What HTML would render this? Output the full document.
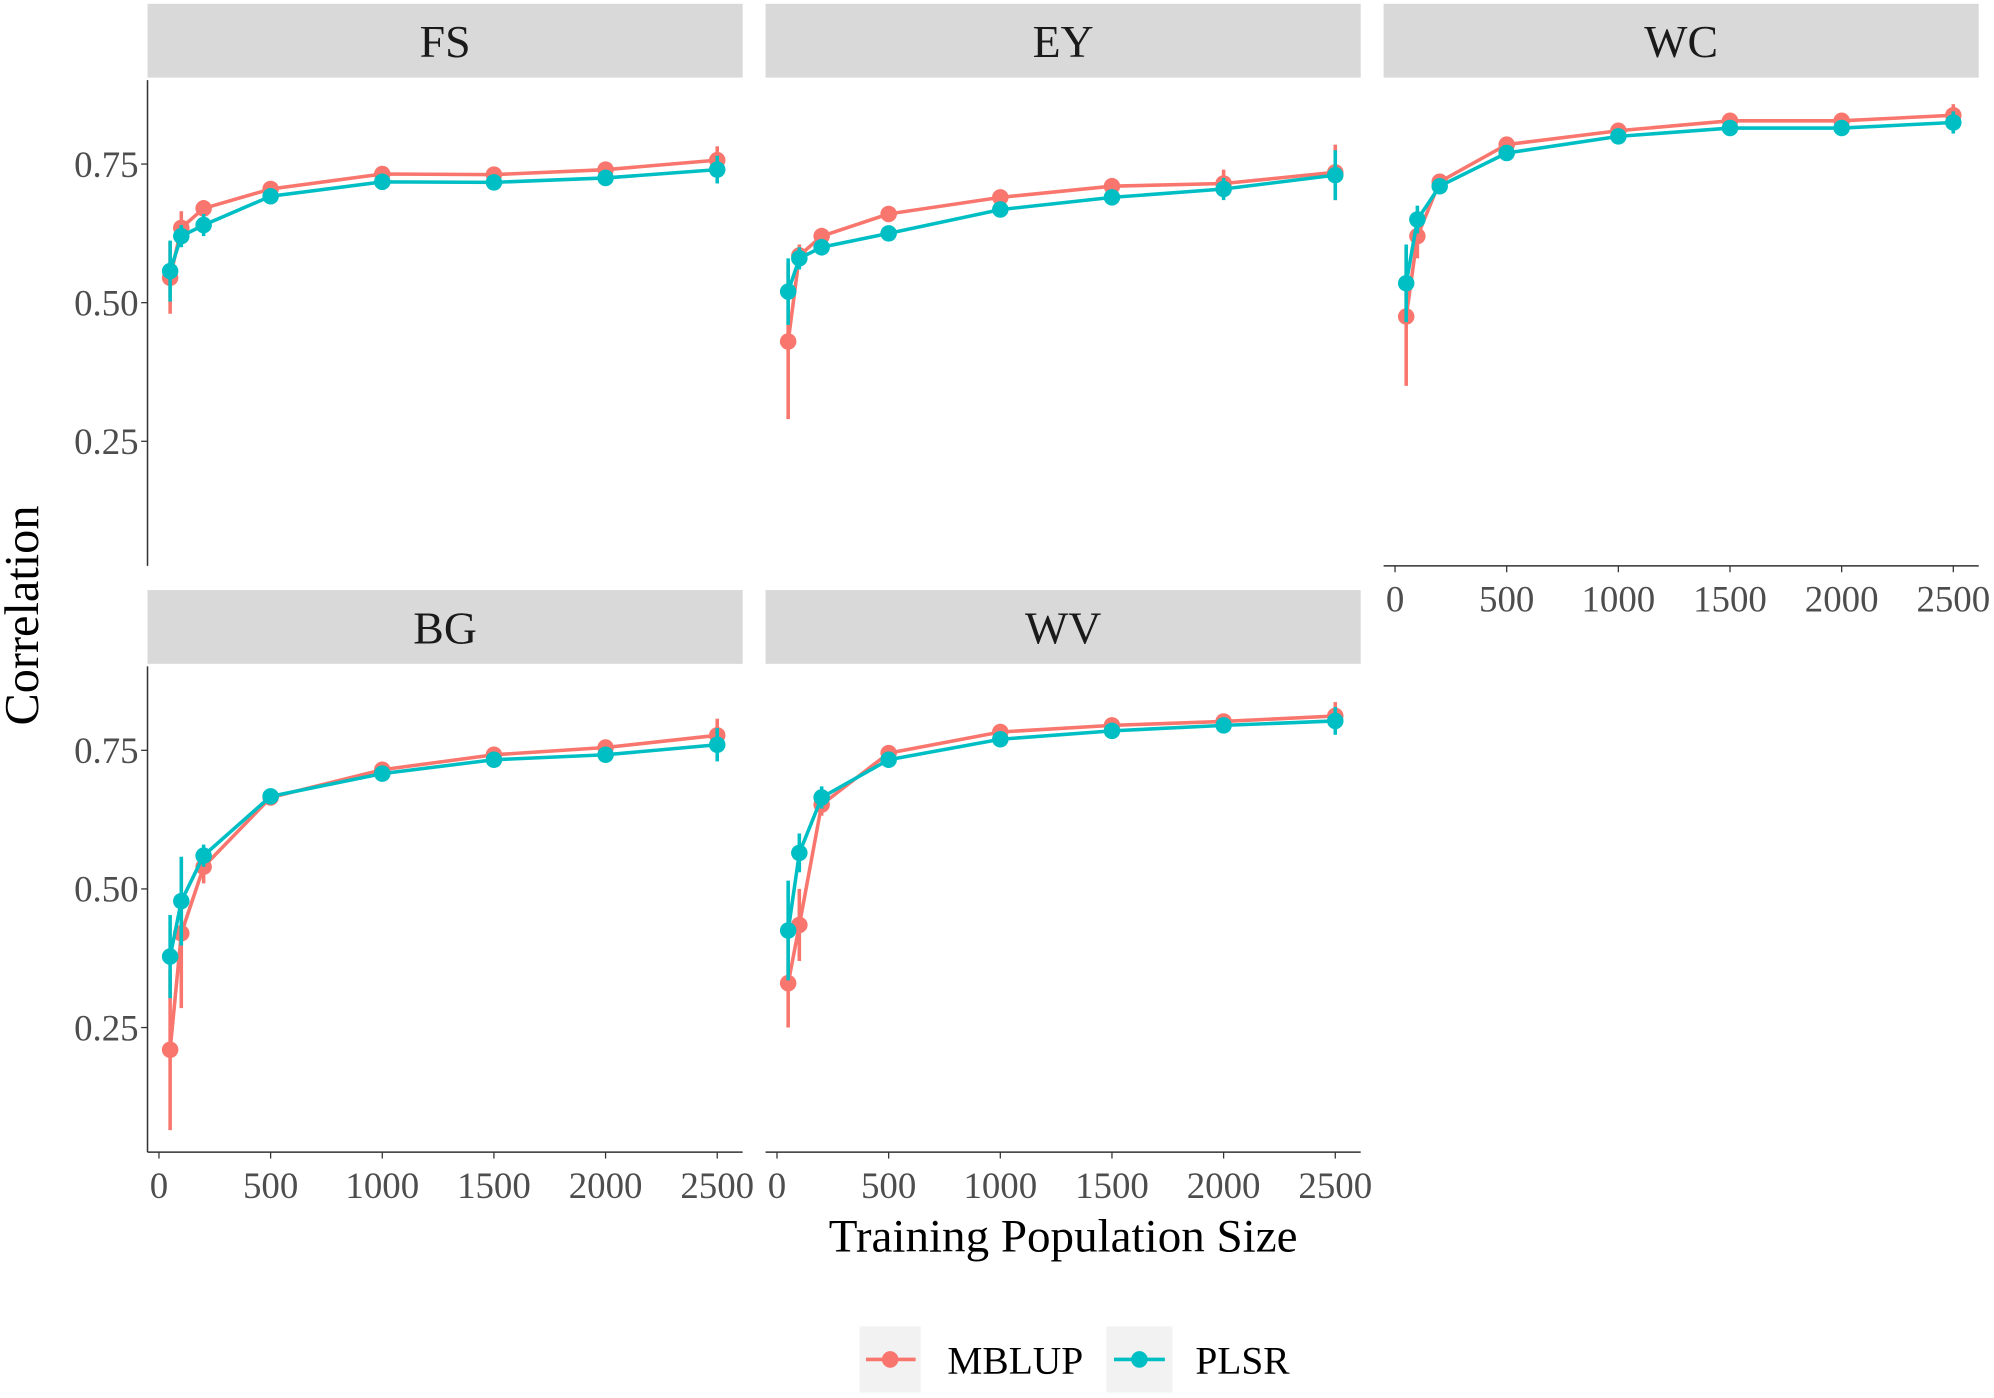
<!DOCTYPE html>
<html><head><meta charset="utf-8"><style>
html,body{margin:0;padding:0;background:#fff;}
svg{display:block;}
text{font-family:"Liberation Serif",serif;}
</style></head><body>
<svg id="s" width="1994" height="1398" viewBox="0 0 1568 1099.3" xmlns="http://www.w3.org/2000/svg"></svg>
<script>
const S=document.getElementById('s');let h='';
const R='#F8766D',C='#00BFC4';
const xs=[50,100,200,500,1000,1500,2000,2500];
const panels=[
 {n:'FS',x:116,y:3,m:[.545,.635,.67,.705,.732,.731,.74,.757],p:[.557,.62,.64,.692,.718,.717,.725,.74],xa:false,ya:true,
  em:[.065,.03,.015,.01,.01,.01,.012,.025],ep:[.055,.02,.02,.01,.01,.01,.012,.025]},
 {n:'EY',x:602,y:3,m:[.43,.585,.62,.66,.69,.71,.715,.735],p:[.52,.58,.6,.625,.668,.69,.705,.73],xa:false,ya:false,
  em:[.14,.02,.015,.01,.012,.015,.025,.05],ep:[.06,.02,.015,.01,.01,.012,.02,.045]},
 {n:'WC',x:1088,y:3,m:[.475,.62,.718,.785,.81,.828,.828,.838],p:[.535,.65,.71,.77,.8,.815,.815,.825],xa:true,ya:false,
  em:[.125,.04,.01,.01,.01,.008,.008,.02],ep:[.07,.025,.01,.01,.008,.008,.008,.02]},
 {n:'BG',x:116,y:464,m:[.21,.42,.54,.665,.715,.742,.755,.777],p:[.378,.478,.56,.667,.708,.733,.742,.76],xa:true,ya:true,
  em:[.145,.135,.03,.01,.01,.01,.01,.03],ep:[.075,.08,.02,.01,.01,.01,.01,.03]},
 {n:'WV',x:602,y:464,m:[.33,.435,.652,.745,.783,.795,.802,.812],p:[.425,.565,.665,.733,.77,.785,.795,.803],xa:true,ya:false,
  em:[.08,.065,.02,.01,.01,.01,.01,.025],ep:[.09,.035,.02,.01,.01,.01,.01,.025]}
];
for(const P of panels){
 const X0=P.x+9, W=439/2500; const fx=v=>X0+v*W;
 const top=P.y+60; const fy=v=>P.y+235-(v-0.5)*436;
 h+=`<rect x="${P.x}" y="${P.y}" width="468" height="58" fill="#D9D9D9"/>`;
 h+=`<text x="${P.x+234}" y="${P.y+42}" font-size="36" text-anchor="middle" fill="#1a1a1a">${P.n}</text>`;
 const bot=P.y+442;
 if(P.ya){h+=`<line x1="${P.x}" y1="${top}" x2="${P.x}" y2="${bot}" stroke="#333" stroke-width="1.2"/>`;
  for(const t of [.25,.5,.75]){const y=fy(t);h+=`<line x1="${P.x-5}" y1="${y}" x2="${P.x}" y2="${y}" stroke="#333"/><text x="${P.x-7}" y="${y+10}" font-size="29" text-anchor="end" fill="#4d4d4d">${t.toFixed(2)}</text>`;}}
 if(P.xa){h+=`<line x1="${P.x}" y1="${bot}" x2="${P.x+468}" y2="${bot}" stroke="#333" stroke-width="1.2"/>`;
  for(const t of [0,500,1000,1500,2000,2500]){const x=fx(t);h+=`<line x1="${x}" y1="${bot}" x2="${x}" y2="${bot+5}" stroke="#333"/><text x="${x}" y="${bot+36}" font-size="29" text-anchor="middle" fill="#4d4d4d">${t}</text>`;}}
 for(const [d,e,c] of [[P.m,P.em,R],[P.p,P.ep,C]]){
  let pts=xs.map((v,i)=>fx(v).toFixed(1)+','+fy(d[i]).toFixed(1)).join(' ');
  h+=`<polyline points="${pts}" fill="none" stroke="${c}" stroke-width="2.8"/>`;
  xs.forEach((v,i)=>{h+=`<line x1="${fx(v)}" y1="${fy(d[i]-e[i])}" x2="${fx(v)}" y2="${fy(d[i]+e[i])}" stroke="${c}" stroke-width="2.8"/><circle cx="${fx(v)}" cy="${fy(d[i])}" r="6.5" fill="${c}"/>`;});
 }
}
h+=`<text x="836" y="984" font-size="37" text-anchor="middle" fill="#000">Training Population Size</text>`;
h+=`<text transform="translate(30,484) rotate(-90)" font-size="38" text-anchor="middle" fill="#000">Correlation</text>`;
h+=`<rect x="676" y="1043" width="48" height="52" fill="#F2F2F2"/><rect x="870" y="1043" width="52" height="52" fill="#F2F2F2"/>`;
h+=`<line x1="681" y1="1069" x2="720" y2="1069" stroke="${R}" stroke-width="2.8"/><circle cx="700" cy="1069" r="6.5" fill="${R}"/>`;
h+=`<line x1="876" y1="1069" x2="916" y2="1069" stroke="${C}" stroke-width="2.8"/><circle cx="896" cy="1069" r="6.5" fill="${C}"/>`;
h+=`<text x="745" y="1080" font-size="31" fill="#000">MBLUP</text><text x="940" y="1080" font-size="31" fill="#000">PLSR</text>`;
S.innerHTML=h;
</script>
</body></html>
